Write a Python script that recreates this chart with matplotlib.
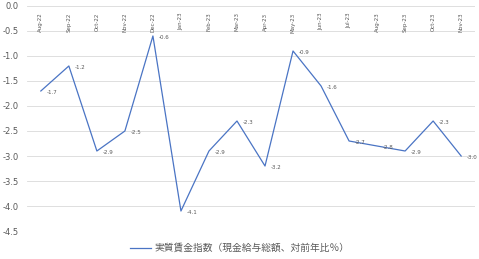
import numpy as np
import matplotlib.pyplot as plt

plt.rcParams['font.family'] = ['DejaVu Sans', 'Noto Sans CJK JP']

months = ['Aug-22', 'Sep-22', 'Oct-22', 'Nov-22', 'Dec-22', 'Jan-23', 'Feb-23', 'Mar-23',
          'Apr-23', 'May-23', 'Jun-23', 'Jul-23', 'Aug-23', 'Sep-23', 'Oct-23', 'Nov-23']
wage_index = [-1.7, -1.2, -2.9, -2.5, -0.6, -4.1, -2.9, -2.3,
              -3.2, -0.9, -1.6, -2.7, -2.8, -2.9, -2.3, -3.0]
series_name = '実質賃金指数（現金給与総額、対前年比％）'

text_grey = '#595959'
line_blue = '#4A74C4'

fig = plt.figure(figsize=(4.79, 2.59), dpi=100)
ax = fig.add_axes([0.056, 0.108, 0.936, 0.869])

x = np.arange(len(months))
line, = ax.plot(x, wage_index, color=line_blue, lw=0.9, label=series_name)

# data labels to the right of each point
for xi, v in zip(x, wage_index):
    ax.annotate(f'{v:.1f}', (xi, v), xytext=(4, -1), textcoords='offset points',
                ha='left', va='center', fontsize=4, color=text_grey)

# category labels hang under the zero line
for xi, m in zip(x, months):
    ax.text(xi, -0.13, m, rotation=90, ha='center', va='top', fontsize=4, color=text_grey)

ax.set_xlim(-0.5, len(months) - 0.5)
ax.set_ylim(-4.5, 0)
ax.set_yticks(np.arange(-4.5, 0.01, 0.5))
ax.set_yticklabels([f'{t:.1f}' for t in np.arange(-4.5, 0.01, 0.5)])
ax.set_xticks([])
ax.tick_params(axis='y', length=0, labelsize=6, labelcolor=text_grey, pad=6)
ax.grid(True, axis='y', color='#D9D9D9', lw=0.6)
ax.set_axisbelow(True)
for s in ax.spines.values():
    s.set_visible(False)

fig.legend(handles=[line], loc='center', bbox_to_anchor=(0.5, 0.042), frameon=False,
           prop={'family': ['Noto Sans CJK JP'], 'size': 7}, labelcolor=text_grey,
           handlelength=2.2, handletextpad=0.3)

fig.savefig('out.png', dpi=100)
